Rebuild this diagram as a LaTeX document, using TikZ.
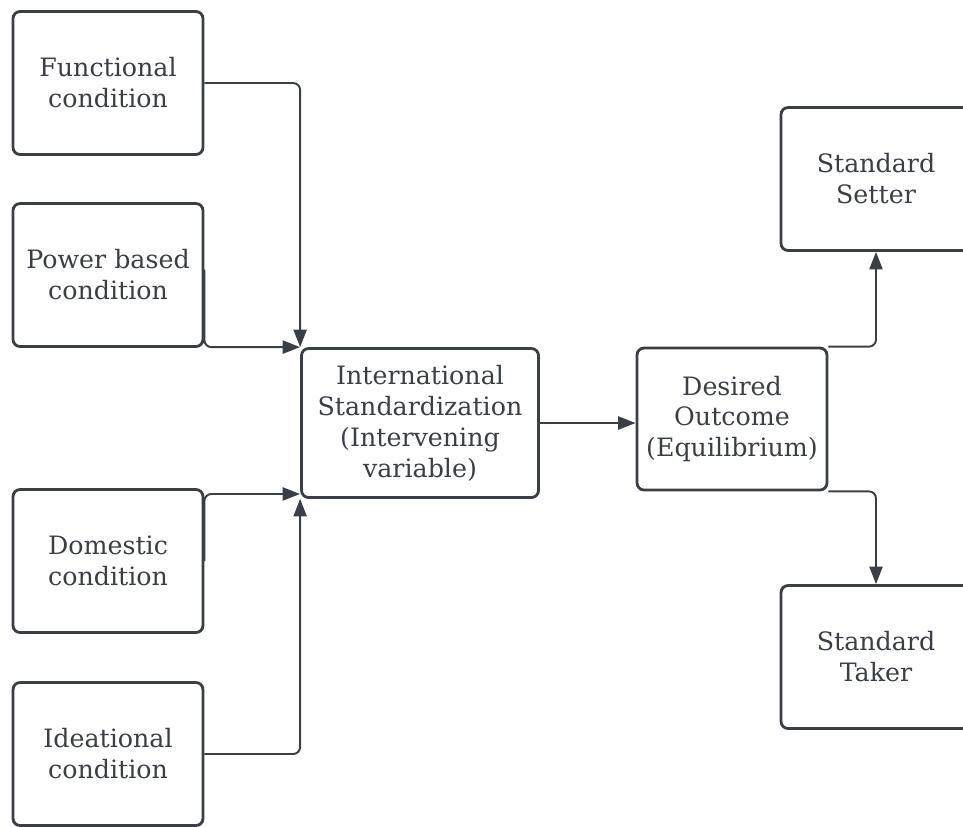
\documentclass[tikz,border=0pt]{standalone}
\usepackage{fontspec}
\setmainfont{DejaVu Serif}
\usetikzlibrary{arrows.meta}
\definecolor{ink}{HTML}{3A3F47}
\begin{document}
\begin{tikzpicture}[x=0.02cm,y=-0.02cm]

\tikzstyle{box}=[rectangle,draw=ink,line width=1.6pt,rounded corners=4pt,minimum width=3.8cm,minimum height=2.86cm,text=ink,align=center,inner sep=0pt,font=\fontsize{14.4}{17.6}\selectfont]
\tikzstyle{midBox}=[box,minimum width=4.74cm,minimum height=2.98cm]
\tikzstyle{link}=[draw=ink,line width=1.1pt,rounded corners=4pt,-{Triangle[length=10pt,width=7.5pt]}]

\useasboundingbox (0,0) rectangle (963,826);
\clip (0,0) rectangle (963,826);

%condition boxes
\node[box] (functional) at (108,83)  {Functional\\condition};
\node[box] (power)      at (108,275) {Power based\\condition};
\node[box] (domestic)   at (108,561) {Domestic\\condition};
\node[box] (ideational) at (108,754) {Ideational\\condition};

%middle boxes
\node[midBox] (intl) at (420,423) {International\\Standardization\\(Intervening\\variable)};
\node[box,minimum height=2.84cm] (desired) at (732,419) {Desired\\Outcome\\(Equilibrium)};

%outcome boxes
\node[box] (setter) at (876,179) {Standard\\Setter};
\node[box] (taker)  at (876,657) {Standard\\Taker};

% connections
\draw[link] (functional.east) -| (intl.north west);
\draw[link] ([yshift=3pt]power.east) |- (intl.north west);
\draw[link] (domestic.east) |- ([yshift=2.8pt]intl.south west);
\draw[link] (ideational.east) -| (intl.south west);

\draw[link] (intl.east) -- (intl.east -| desired.west);

\draw[link] (desired.north east) -| (setter.south);
\draw[link] (desired.south east) -| (taker.north);

\end{tikzpicture}
\end{document}
